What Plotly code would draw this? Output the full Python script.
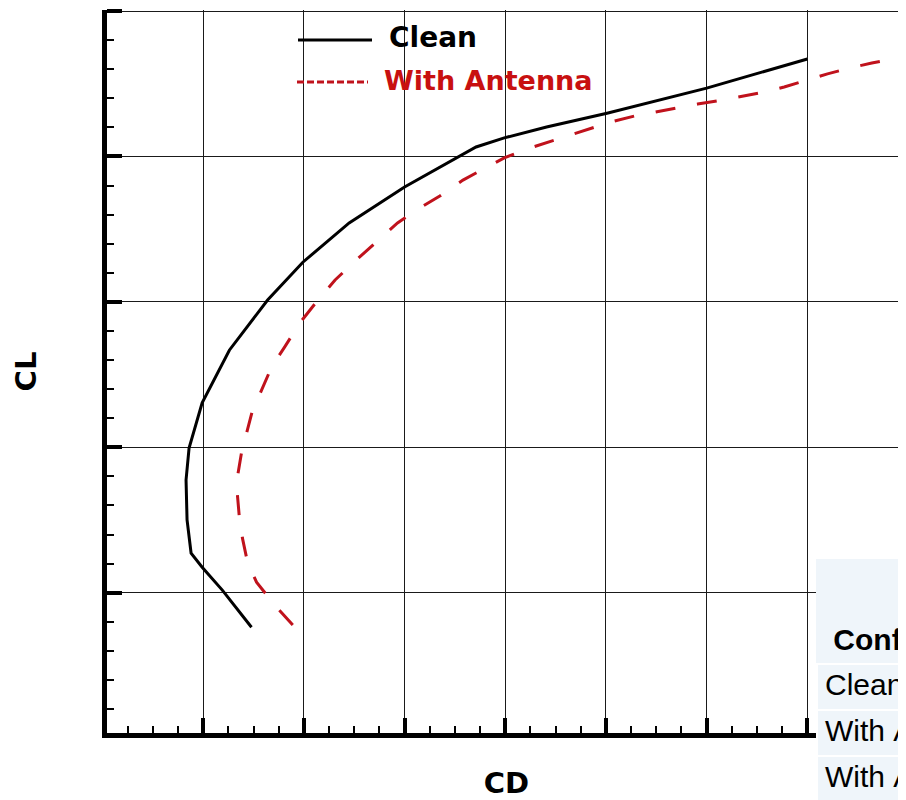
import plotly.graph_objects as go

# ---- data ----
cd_clean = [0.0148, 0.0119, 0.0099, 0.0088, 0.0084, 0.0083, 0.0086, 0.0096, 0.0099,
            0.0126, 0.0164, 0.0199, 0.0245, 0.0300, 0.0358, 0.0371, 0.0399, 0.0441,
            0.0501, 0.0600, 0.0700]
cl_clean = [-0.095, 0.007, 0.070, 0.109, 0.200, 0.310, 0.398, 0.494, 0.522,
            0.667, 0.805, 0.909, 1.017, 1.116, 1.204, 1.226, 1.251, 1.281,
            1.319, 1.388, 1.468]

cd_antenna = [0.0189, 0.0171, 0.0153, 0.0144, 0.0139, 0.0136, 0.0134, 0.0134, 0.0138,
              0.0143, 0.0149, 0.0158, 0.0168, 0.0181, 0.0196, 0.0214, 0.0231, 0.0250,
              0.0272, 0.0293, 0.0315, 0.0335, 0.0358, 0.0377, 0.0399, 0.0421, 0.0444,
              0.0464, 0.0487, 0.0505, 0.0528, 0.0548, 0.0571, 0.0591, 0.0615, 0.0635,
              0.0657, 0.0677, 0.0700, 0.0720, 0.0742, 0.0764, 0.0785, 0.0810]
cl_antenna = [-0.089, -0.034, 0.029, 0.084, 0.150, 0.205, 0.269, 0.318, 0.384,
              0.439, 0.502, 0.557, 0.621, 0.676, 0.742, 0.805, 0.860, 0.910,
              0.965, 1.017, 1.058, 1.091, 1.135, 1.163, 1.196, 1.220, 1.240,
              1.259, 1.278, 1.295, 1.311, 1.322, 1.333, 1.344, 1.355, 1.366,
              1.377, 1.391, 1.410, 1.427, 1.443, 1.457, 1.468, 1.485]

series_names = ["Clean", "With Antenna"]
table_header = "Configuration"
table_rows = ["Clean", "With Antenna", "With Antenna (Δ)"]

BLACK = "#000000"
RED_LINE = "#c0121c"
RED_TEXT = "#c81010"
TABLE_FILL = "#eff5fa"

# the page body adds an 8px offset; figure is sized so it ends at the window edge
OFF = 8
W, H = 906 - OFF, 800 - OFF
ML, MR, MT, MB = 107 - OFF, 0, 10 - OFF, 0
PW, PH = W - ML - MR, H - MT - MB


def px(sx):  # screen x -> paper x
    return (sx - OFF - ML) / PW


def py(sy):  # screen y -> paper y
    return (H - MB - (sy - OFF)) / PH


fig = go.Figure()
fig.add_trace(go.Scatter(x=cd_clean, y=cl_clean, mode="lines", name=series_names[0],
                         line=dict(color=BLACK, width=3), showlegend=False))
fig.add_trace(go.Scatter(x=cd_antenna, y=cl_antenna, mode="lines", name=series_names[1],
                         line=dict(color=RED_LINE, width=3, dash="20px,22px"),
                         showlegend=False))

nb = lambda s: s.replace(" ", "\u00a0")
cell_vals = ["<b>\u00a0" + table_header + "</b>"] + [nb(r) for r in table_rows]
line_cols = [TABLE_FILL] + ["white"] * len(table_rows)

fig.add_trace(go.Table(
    domain=dict(x=[px(817), 1.0], y=[0.0, py(560)]),
    header=dict(values=[""], align="left", height=55, fill_color=TABLE_FILL,
                line=dict(color=TABLE_FILL, width=2),
                font=dict(family="Liberation Sans, Arial", size=30, color="black")),
    cells=dict(values=[cell_vals], align="left", height=46, fill_color=TABLE_FILL,
               line=dict(color=[line_cols], width=2),
               font=dict(family="Liberation Sans, Arial", size=30, color="black")),
))

font_b = "DejaVu Sans"
fig.update_layout(
    width=W, height=H,
    margin=dict(l=ML, r=MR, t=MT, b=MB, pad=0),
    paper_bgcolor="white", plot_bgcolor="white",
    showlegend=False,
    xaxis=dict(
        domain=[0, 1], range=[0.00045, 0.00045 + PW / 10070], dtick=0.01, tick0=0,
        showticklabels=False, ticks="inside", ticklen=15, tickwidth=4, tickcolor=BLACK,
        showline=True, linewidth=5, linecolor=BLACK, mirror=False,
        showgrid=True, gridcolor="#1a1a1a", gridwidth=1.2, zeroline=False,
        minor=dict(dtick=0.0025, tick0=0, ticks="inside", ticklen=7, tickwidth=1.5,
                   tickcolor=BLACK, showgrid=False),
        title=dict(text="<b>CD</b>", font=dict(family=font_b, size=29, color=BLACK),
                   standoff=40),
        automargin=False,
    ),
    yaxis=dict(
        domain=[py(733), 1], range=[-0.386, 1.6028], dtick=0.4, tick0=-0.4,
        showticklabels=False, ticks="inside", ticklen=15, tickwidth=4, tickcolor=BLACK,
        showline=True, linewidth=5, linecolor=BLACK, mirror=False,
        showgrid=True, gridcolor="#1a1a1a", gridwidth=1.2, zeroline=False,
        minor=dict(dtick=0.08, tick0=-0.4, ticks="inside", ticklen=7, tickwidth=1.5,
                   tickcolor=BLACK, showgrid=False),
        title=dict(text="<b>CL</b>", font=dict(family=font_b, size=29, color=BLACK),
                   standoff=58),
        automargin=False,
    ),
)

# legend drawn as line samples + text labels
fig.add_shape(type="line", xref="paper", yref="paper", x0=px(298), x1=px(372),
              y0=py(40), y1=py(40), line=dict(color=BLACK, width=3))
fig.add_shape(type="line", xref="paper", yref="paper", x0=px(297), x1=px(368),
              y0=py(82), y1=py(82), line=dict(color=RED_LINE, width=3, dash="7px,3px"))
fig.add_annotation(xref="paper", yref="paper", x=px(387), y=py(38), xanchor="left",
                   yanchor="middle", showarrow=False, text="<b>" + series_names[0] + "</b>",
                   font=dict(family=font_b, size=28, color=BLACK))
fig.add_annotation(xref="paper", yref="paper", x=px(382), y=py(80), xanchor="left",
                   yanchor="middle", showarrow=False, text="<b>" + series_names[1] + "</b>",
                   font=dict(family=font_b, size=27, color=RED_TEXT))

fig.write_html("out.html")
